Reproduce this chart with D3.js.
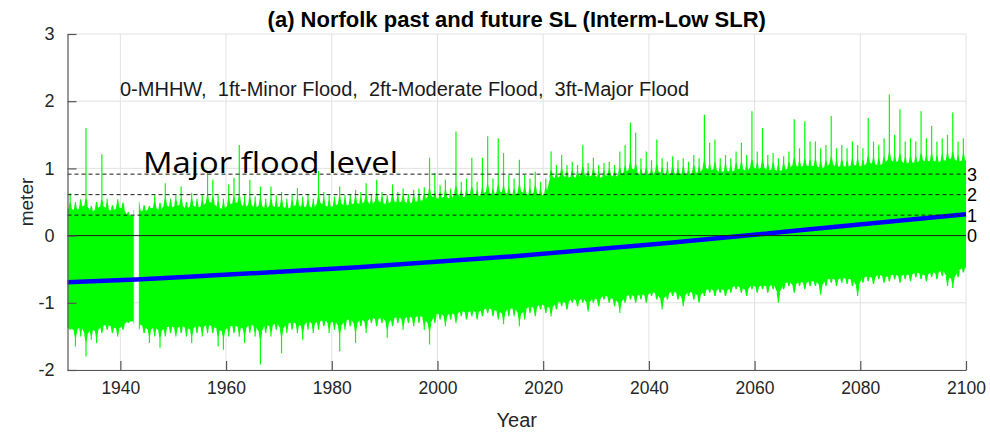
<!DOCTYPE html>
<html>
<head>
<meta charset="utf-8">
<script src="https://cdn.jsdelivr.net/npm/d3@7"></script>
<style>
  body { margin: 0; background: #fff; }
  svg { display: block; }
  text { font-family: "Liberation Sans", Arial, Helvetica, sans-serif; fill: #262626; }
</style>
</head>
<body>
<svg id="chart" width="990" height="436"></svg>
<script>
// ---- Data -------------------------------------------------------------
// Yearly summary of the hourly water level (m, relative to MHHW), 1930..2099.
const firstYear = 1930;

// Highest and lowest hourly value in each year.
const annualHigh = [
  0.63, 0.50, 0.54, 1.60, 0.44, 0.50, 1.21, 0.55, 0.45, 0.54,
  0.49, 0.35, null, 0.51, 0.45, 0.44, 0.60, 0.49, 0.78, 0.55,
  0.60, 0.73, 0.50, 0.63, 0.55, 0.60, 0.93, 0.83, 0.60, 0.55,
  0.76, 0.86, 1.35, 0.60, 0.83, 0.58, 0.73, 0.55, 0.73, 0.60,
  0.65, 0.55, 0.60, 0.71, 0.58, 0.62, 0.55, 0.96, 0.65, 0.60,
  0.58, 0.73, 0.60, 0.62, 0.68, 0.65, 0.78, 0.62, 0.83, 0.65,
  0.60, 0.76, 0.65, 0.70, 0.62, 0.68, 0.70, 0.72, 1.16, 0.93,
  0.75, 0.83, 0.70, 1.55, 0.80, 0.85, 1.16, 0.80, 1.16, 1.48,
  0.85, 1.45, 1.23, 0.90, 0.85, 1.13, 0.90, 0.85, 0.95, 0.80,
  0.85, 1.25, 1.05, 1.20, 1.05, 1.10, 1.05, 1.35, 1.08, 1.16,
  1.05, 1.08, 1.10, 1.05, 1.25, 1.35, 1.68, 1.53, 1.15, 1.25,
  1.12, 1.43, 1.15, 1.10, 1.18, 1.12, 1.15, 1.10, 1.20, 1.15,
  1.80, 1.38, 1.43, 1.15, 1.20, 1.15, 1.25, 1.38, 1.20, 1.85,
  1.25, 1.60, 1.20, 1.23, 1.15, 1.18, 1.25, 1.73, 1.30, 1.70,
  1.40, 1.40, 1.30, 1.35, 1.78, 1.30, 1.35, 1.30, 1.40, 1.35,
  1.30, 1.75, 1.40, 1.35, 1.45, 2.10, 1.50, 1.88, 1.40, 1.45,
  1.40, 1.85, 1.45, 1.63, 1.40, 1.45, 1.50, 1.83, 1.40, 1.45
];
const annualLow = [
  -1.40, -1.65, -1.50, -1.80, -1.55, -1.60, -1.45, -1.40, -1.45, -1.50,
  -1.40, -1.30, null, -1.40, -1.45, -1.60, -1.50, -1.67, -1.50, -1.45,
  -1.50, -1.45, -1.50, -1.60, -1.45, -1.50, -1.45, -1.45, -1.65, -1.70,
  -1.50, -1.45, -1.50, -1.60, -1.45, -1.50, -1.92, -1.45, -1.50, -1.40,
  -1.75, -1.45, -1.40, -1.45, -1.55, -1.40, -1.45, -1.40, -1.35, -1.45,
  -1.40, -1.72, -1.40, -1.35, -1.60, -1.35, -1.45, -1.30, -1.35, -1.30,
  -1.52, -1.35, -1.30, -1.40, -1.30, -1.35, -1.30, -1.40, -1.62, -1.30,
  -1.25, -1.35, -1.25, -1.30, -1.20, -1.25, -1.20, -1.25, -1.20, -1.15,
  -1.20, -1.25, -1.32, -1.20, -1.20, -1.35, -1.25, -1.15, -1.20, -1.10,
  -1.15, -1.20, -1.10, -1.05, -1.10, -1.00, -1.05, -1.00, -1.13, -1.00,
  -1.05, -0.95, -1.00, -1.05, -1.15, -1.00, -0.95, -1.00, -0.95, -1.00,
  -0.90, -0.95, -1.10, -0.95, -0.90, -0.95, -1.05, -0.90, -0.95, -1.00,
  -0.90, -0.85, -0.90, -0.85, -0.90, -0.85, -0.80, -0.85, -0.90, -0.80,
  -0.85, -0.80, -0.85, -0.80, -1.00, -0.80, -0.75, -0.85, -0.75, -0.80,
  -0.75, -0.75, -0.88, -0.75, -0.70, -0.75, -0.70, -0.72, -0.75, -0.90,
  -0.70, -0.68, -0.72, -0.65, -0.70, -0.68, -0.65, -0.70, -0.65, -0.68,
  -0.62, -0.65, -0.68, -0.62, -0.65, -0.60, -0.75, -0.78, -0.62, -0.55
];

// Upper and lower edge of the bulk of the hourly values in each year.
const bulkHigh = [
  0.40, 0.38, 0.42, 0.45, 0.36, 0.40, 0.44, 0.40, 0.37, 0.42,
  0.40, 0.30, null, 0.38, 0.36, 0.40, 0.42, 0.38, 0.46, 0.42,
  0.44, 0.46, 0.40, 0.45, 0.42, 0.44, 0.50, 0.48, 0.42, 0.40,
  0.46, 0.48, 0.50, 0.42, 0.47, 0.41, 0.46, 0.40, 0.45, 0.42,
  0.44, 0.40, 0.43, 0.46, 0.42, 0.44, 0.41, 0.50, 0.45, 0.43,
  0.44, 0.48, 0.45, 0.46, 0.48, 0.47, 0.52, 0.46, 0.53, 0.48,
  0.47, 0.52, 0.49, 0.51, 0.48, 0.50, 0.52, 0.53, 0.60, 0.56,
  0.55, 0.58, 0.54, 0.64, 0.57, 0.59, 0.63, 0.58, 0.62, 0.66,
  0.60, 0.66, 0.64, 0.62, 0.60, 0.66, 0.63, 0.61, 0.65, 0.60,
  0.62, 0.88, 0.85, 0.90, 0.86, 0.88, 0.86, 0.93, 0.87, 0.90,
  0.86, 0.88, 0.90, 0.87, 0.92, 0.94, 1.00, 0.97, 0.90, 0.92,
  0.90, 0.96, 0.92, 0.90, 0.94, 0.91, 0.93, 0.90, 0.95, 0.93,
  1.02, 0.97, 0.99, 0.94, 0.96, 0.95, 0.98, 1.00, 0.96, 1.04,
  0.98, 1.03, 0.97, 0.99, 0.96, 0.98, 1.00, 1.06, 1.01, 1.05,
  1.03, 1.04, 1.01, 1.02, 1.08, 1.02, 1.04, 1.02, 1.05, 1.04,
  1.03, 1.09, 1.06, 1.05, 1.08, 1.14, 1.09, 1.12, 1.07, 1.09,
  1.08, 1.13, 1.10, 1.12, 1.09, 1.11, 1.13, 1.15, 1.10, 1.12
];
const bulkLow = [
  -1.38, -1.42, -1.36, -1.48, -1.40, -1.42, -1.35, -1.33, -1.36, -1.38,
  -1.34, -1.28, null, -1.32, -1.36, -1.40, -1.37, -1.42, -1.38, -1.35,
  -1.38, -1.35, -1.37, -1.40, -1.34, -1.36, -1.33, -1.35, -1.40, -1.42,
  -1.36, -1.34, -1.36, -1.39, -1.33, -1.35, -1.45, -1.33, -1.35, -1.30,
  -1.40, -1.32, -1.29, -1.32, -1.35, -1.28, -1.31, -1.28, -1.26, -1.30,
  -1.28, -1.36, -1.27, -1.25, -1.33, -1.25, -1.29, -1.22, -1.25, -1.22,
  -1.30, -1.24, -1.21, -1.25, -1.20, -1.23, -1.19, -1.24, -1.32, -1.19,
  -1.16, -1.21, -1.15, -1.18, -1.12, -1.15, -1.12, -1.14, -1.11, -1.08,
  -1.10, -1.13, -1.16, -1.09, -1.08, -1.17, -1.12, -1.05, -1.08, -1.02,
  -1.05, -1.07, -1.01, -0.98, -1.01, -0.94, -0.97, -0.94, -1.01, -0.93,
  -0.96, -0.89, -0.92, -0.95, -1.00, -0.92, -0.88, -0.91, -0.87, -0.90,
  -0.84, -0.87, -0.96, -0.87, -0.84, -0.86, -0.93, -0.83, -0.86, -0.89,
  -0.83, -0.79, -0.82, -0.79, -0.82, -0.78, -0.75, -0.78, -0.81, -0.74,
  -0.77, -0.74, -0.76, -0.73, -0.86, -0.73, -0.69, -0.75, -0.68, -0.71,
  -0.68, -0.68, -0.75, -0.67, -0.64, -0.66, -0.63, -0.64, -0.66, -0.76,
  -0.62, -0.61, -0.63, -0.58, -0.62, -0.60, -0.58, -0.61, -0.57, -0.59,
  -0.55, -0.57, -0.59, -0.54, -0.56, -0.52, -0.62, -0.64, -0.54, -0.48
];

// Missing stretch of the tide-gauge record.
const gapStart = 1942.6;
const gapEnd = 1943.5;

// Sea-level rise trend (Interm-Low scenario).
const trendYears  = [1930, 1943, 1957, 1985, 2014, 2042, 2070, 2100];
const trendValues = [-0.695, -0.655, -0.595, -0.47, -0.31, -0.12, 0.09, 0.317];

// Flood thresholds: 0 = MHHW, 1/2/3 ft above it.
const floodLevels = [0, 0.3048, 0.6096, 0.9144];
const floodLabels = ["0", "1", "2", "3"];

// Axes
const xTickValues = [1940, 1960, 1980, 2000, 2020, 2040, 2060, 2080, 2100];
const yTickValues = [-2, -1, 0, 1, 2, 3];
const xDomain = [1930, 2100];
const yDomain = [-2, 3];

const titleText = "(a) Norfolk past and future SL (Interm-Low SLR)";
const legendText = "0-MHHW,  1ft-Minor Flood,  2ft-Moderate Flood,  3ft-Major Flood";
const noteText = "Major flood level";

// ---- Drawing ----------------------------------------------------------
const svg = d3.select("#chart");
const x = d3.scaleLinear().domain(xDomain).range([67.5, 966]);
const y = d3.scaleLinear().domain(yDomain).range([370, 34]);
const green = "#00ff00";

// grid
const grid = svg.append("g").attr("stroke", "#e2e2e2").attr("stroke-width", 1);
grid.selectAll("line.v").data(xTickValues).join("line")
  .attr("x1", d => x(d)).attr("x2", d => x(d))
  .attr("y1", y(yDomain[0])).attr("y2", y(yDomain[1]));
grid.selectAll("line.h").data(yTickValues).join("line")
  .attr("x1", x(xDomain[0])).attr("x2", x(xDomain[1]))
  .attr("y1", d => y(d)).attr("y2", d => y(d));

// clip that leaves out the record gap
const clip = svg.append("defs").append("clipPath").attr("id", "recordClip");
[[xDomain[0], gapStart], [gapEnd, xDomain[1]]].forEach(([a, b]) => {
  clip.append("rect")
    .attr("x", x(a)).attr("width", x(b) - x(a))
    .attr("y", y(yDomain[1])).attr("height", y(yDomain[0]) - y(yDomain[1]));
});

const years = annualHigh.map((h, i) => ({
  year: firstYear + i, hi: h, lo: annualLow[i], bHi: bulkHigh[i], bLo: bulkLow[i]
}));
const series = svg.append("g").attr("clip-path", "url(#recordClip)");

// bulk of the record: band through the yearly edges
const bulk = d3.area()
  .curve(d3.curveMonotoneX)
  .x(d => x(d.year + 0.5)).y0(d => y(d.bLo)).y1(d => y(d.bHi));
const segments = [years.filter(d => d.year < gapStart), years.filter(d => d.year > gapEnd - 1)];
segments.forEach(seg => {
  const s = seg.filter(d => d.bHi !== null);
  // carry the end bins out to the record edges (the clip trims them)
  const padded = [{ ...s[0], year: s[0].year - 1 }, ...s, { ...s[s.length - 1], year: s[s.length - 1].year + 1 }];
  series.append("path").datum(padded).attr("d", bulk).attr("fill", green);
});

// yearly extremes, drawn as spikes that widen where they leave the bulk
const spike = (x0, yEdge, yTip, dir) => {
  const shoulder = yEdge + dir * Math.min(Math.abs(yTip - yEdge), 8);
  return `M${x0 - 1.8},${yEdge} L${x0 - 0.6},${shoulder} L${x0 - 0.6},${yTip} ` +
         `L${x0 + 0.6},${yTip} L${x0 + 0.6},${shoulder} L${x0 + 1.8},${yEdge} Z`;
};
const valid = years.filter(d => d.hi !== null);
series.selectAll("path.spikeHi").data(valid).join("path")
  .attr("class", "spikeHi")
  .attr("d", d => spike(x(d.year + 0.5), y(d.bHi) + 1, y(d.hi), -1))
  .attr("fill", green);
series.selectAll("path.spikeLo").data(valid).join("path")
  .attr("class", "spikeLo")
  .attr("d", d => spike(x(d.year + 0.5), y(d.bLo) - 1, y(d.lo), 1))
  .attr("fill", green);

// trend
const trend = trendYears.map((yr, i) => ({ year: yr, v: trendValues[i] }));
svg.append("path").datum(trend)
  .attr("d", d3.line().x(d => x(d.year)).y(d => y(d.v)).curve(d3.curveMonotoneX))
  .attr("fill", "none").attr("stroke", "#0000ff").attr("stroke-width", 4.5);

// flood thresholds
svg.selectAll("line.flood").data(floodLevels).join("line")
  .attr("class", "flood")
  .attr("x1", x(xDomain[0])).attr("x2", x(xDomain[1]))
  .attr("y1", d => y(d)).attr("y2", d => y(d))
  .attr("stroke", "#1a1a1a").attr("stroke-width", 1)
  .attr("stroke-dasharray", d => d === 0 ? null : "4,3");
svg.selectAll("text.flood").data(floodLevels).join("text")
  .attr("class", "flood")
  .attr("x", x(xDomain[1]) + 1).attr("y", d => y(d))
  .attr("dy", "0.36em")
  .style("font-size", "18px").style("fill", "#000")
  .text((d, i) => floodLabels[i]);

// axes
const xAxis = d3.axisBottom(x).tickValues(xTickValues).tickFormat(d => String(d))
  .tickSizeInner(-9).tickSizeOuter(0).tickPadding(12);
const yAxis = d3.axisLeft(y).tickValues(yTickValues).tickFormat(d => String(d))
  .tickSizeInner(-9).tickSizeOuter(0).tickPadding(13);

const gx = svg.append("g").attr("transform", `translate(0,${y(yDomain[0])})`).call(xAxis);
const gy = svg.append("g").attr("transform", `translate(${x(xDomain[0])},0)`).call(yAxis);
[gx, gy].forEach(g => {
  g.select(".domain").attr("stroke", "#555").attr("stroke-width", 1.2);
  g.selectAll(".tick line").attr("stroke", "#555").attr("stroke-width", 1.2);
  g.selectAll(".tick text").style("font-size", "17.5px").style("fill", "#262626")
    .style("font-family", '"Liberation Sans", Arial, sans-serif');
});
gy.selectAll(".tick text").style("font-size", "18px");

// text
svg.append("text").attr("x", (x(xDomain[0]) + x(xDomain[1])) / 2).attr("y", 27)
  .attr("text-anchor", "middle")
  .style("font-size", "22px").style("font-weight", "bold").style("fill", "#000")
  .text(titleText);

svg.append("text").attr("x", 120).attr("y", 95.5)
  .style("font-size", "20px").style("white-space", "pre").style("fill", "#1a1a1a")
  .text(legendText);

svg.append("text").attr("x", 143).attr("y", 173)
  .attr("textLength", 255).attr("lengthAdjust", "spacingAndGlyphs")
  .style("font-family", "'Open Sans', Lato, sans-serif")
  .style("font-size", "29px").style("fill", "#000")
  .text(noteText);

svg.append("text").attr("x", (x(xDomain[0]) + x(xDomain[1])) / 2).attr("y", 427)
  .attr("text-anchor", "middle").style("font-size", "20px")
  .text("Year");

svg.append("text").attr("transform", `translate(33,${(y(yDomain[0]) + y(yDomain[1])) / 2}) rotate(-90)`)
  .attr("text-anchor", "middle").style("font-size", "19px")
  .text("meter");
</script>
</body>
</html>
